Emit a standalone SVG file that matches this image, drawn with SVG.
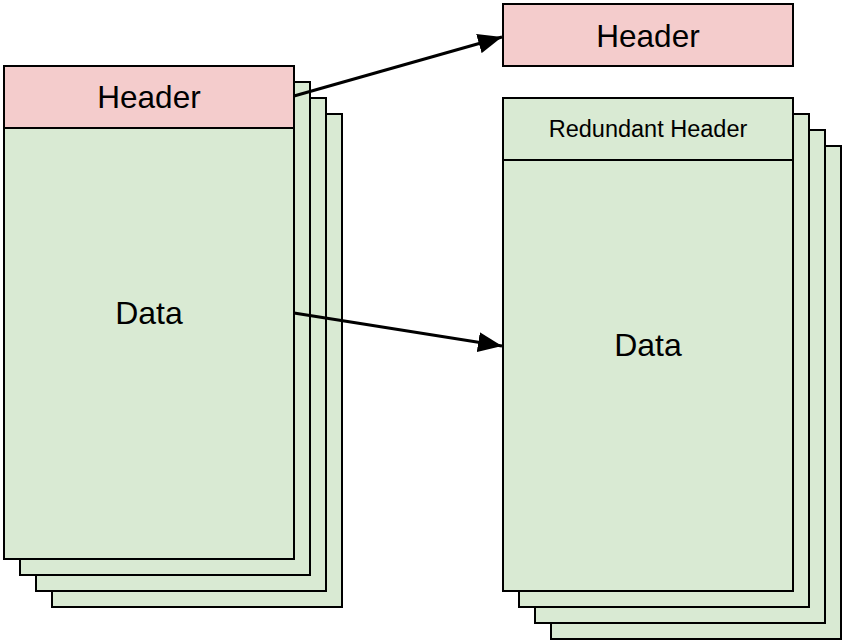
<svg xmlns="http://www.w3.org/2000/svg" width="846" height="644" viewBox="0 0 846 644">
<defs>
<style>
.g{fill:#d9ead3;stroke:#000;stroke-width:2}
.p{fill:#f4cccc;stroke:#000;stroke-width:2}
.t{font-family:"Liberation Sans",Arial,sans-serif;fill:#000;text-anchor:middle;dominant-baseline:central}
.e{stroke:#000;stroke-width:3;fill:none}
</style>
<marker id="ah" markerUnits="userSpaceOnUse" markerWidth="26" markerHeight="20" refX="24" refY="10" orient="auto">
<polygon points="0,0 24,10 0,20" fill="#000"/>
</marker>
</defs>
<g id="left-stack">
<rect class="g" x="52" y="114" width="290" height="493"/>
<rect class="g" x="36" y="98" width="290" height="493"/>
<rect class="g" x="20" y="82" width="290" height="493"/>
<rect class="g" x="4" y="66" width="290" height="493"/>
</g>
<g id="left-header">
<rect class="p" x="4" y="66" width="290" height="62"/>
<text class="t" x="149" y="97" font-size="31.5">Header</text>
</g>
<g id="left-data">
<text class="t" x="149" y="313" font-size="32">Data</text>
</g>
<g id="right-header">
<rect class="p" x="503" y="4" width="290" height="62"/>
<text class="t" x="648" y="36" font-size="31.5">Header</text>
</g>
<g id="right-stack">
<rect class="g" x="551" y="146" width="290" height="493"/>
<rect class="g" x="535" y="130" width="290" height="493"/>
<rect class="g" x="519" y="114" width="290" height="493"/>
<rect class="g" x="503" y="98" width="290" height="493"/>
<line x1="503" y1="160" x2="793" y2="160" stroke="#000" stroke-width="2"/>
</g>
<g id="redundant-header">
<text class="t" x="648" y="129" font-size="23.5">Redundant Header</text>
</g>
<g id="right-data">
<text class="t" x="648" y="345" font-size="32">Data</text>
</g>
<g id="connectors">
<line class="e" x1="294" y1="96" x2="502" y2="37" marker-end="url(#ah)"/>
<line class="e" x1="294" y1="313" x2="502" y2="346" marker-end="url(#ah)"/>
</g>
</svg>
